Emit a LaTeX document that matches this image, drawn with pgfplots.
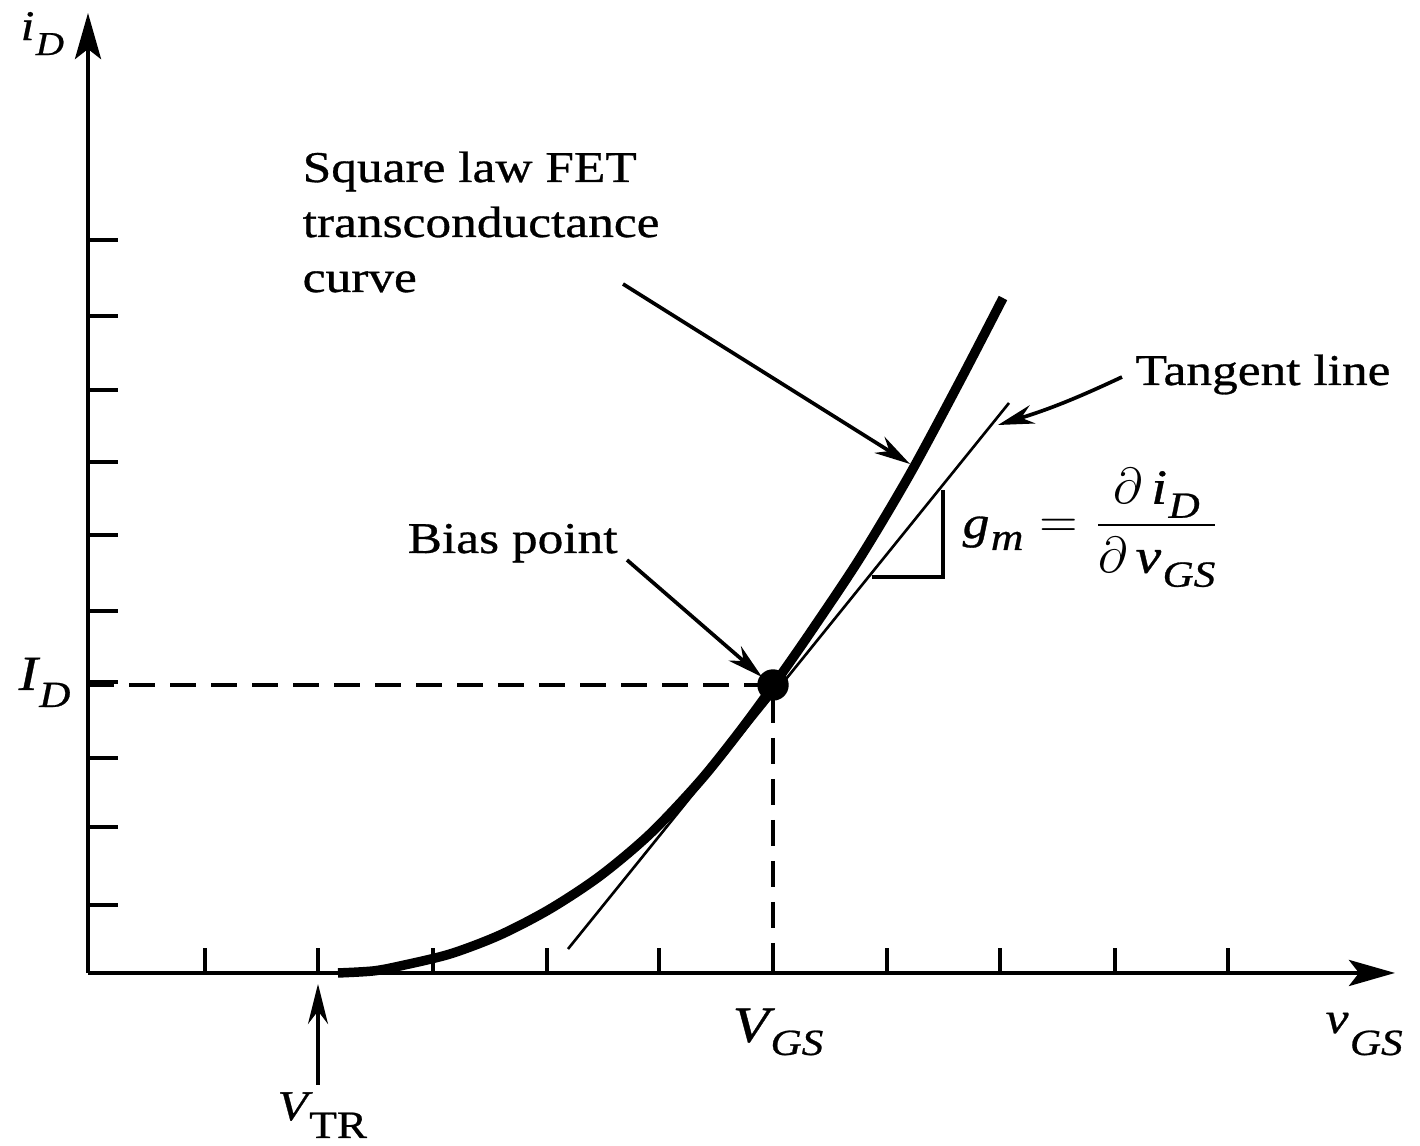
\documentclass[border=0pt]{standalone}
\usepackage{pgfplots}
\pgfplotsset{compat=1.18}
\usepackage{amsmath}
\usepackage{fontspec}
\setmainfont{Liberation Serif}[FakeStretch=1.17,FakeBold=0.7]
\usetikzlibrary{arrows.meta}
% symbol with lowered subscript: #1 main size, #2 sub size, #3 main, #4 sub, #5 drop
\newcommand{\sym}[5]{\mbox{\fontsize{#1}{#1}\selectfont\itshape #3\kern0.4pt\raisebox{-#5}{\fontsize{#2}{#2}\selectfont #4}}}
\begin{document}
\fontsize{12.5}{15}\selectfont
\begin{tikzpicture}
\begin{axis}[
  width=130.7mm, height=96mm, scale only axis,
  xmin=0, xmax=1307, ymin=0, ymax=960,
  axis lines=left,
  axis line style={line width=1.3pt},
  x axis line style={-{Stealth[length=4.6mm,width=2.6mm,inset=1mm]}},
  y axis line style={-{Stealth[length=4.6mm,width=2.6mm,inset=1mm]}},
  xtick={117,230,345,459,571,685,799,912,1027,1140},
  ytick={68,146,215,291,362,438,511,583,657,733},
  xticklabels={}, yticklabels={},
  tick align=inside,
  major tick length=2.7mm,
  x tick style={/pgfplots/major tick length=2.5mm},
  y tick style={/pgfplots/major tick length=3mm},
  tick style={line width=0.9pt, black},
  clip=false,
]
% bounding box of the whole picture
\path (axis cs:-88,-173) rectangle (axis cs:1332,973);

% dashed bias lines
\addplot[line width=1pt, dash pattern=on 2.6mm off 1.5mm] coordinates {(0,288) (685,288) (685,0)};

% square-law curve
\addplot[line width=2.7pt, smooth] coordinates {
(250,0) (285,2) (312,7) (362,19) (412,38) (462,64) (512,97) (562,139)
(612,192) (652,242) (685,287) (722,340) (772,415) (822,499) (872,592) (915,675)};

% tangent line
\addplot[line width=0.75pt] coordinates {(480,24) (921,570)};

% slope triangle
\addplot[line width=1pt] coordinates {(784,396) (855,396) (855,483)};

% bias point
\addplot[only marks, mark=*, mark size=1.5mm, black] coordinates {(685,288)};

% annotation arrows
\draw[line width=1.05pt, -{Stealth[length=3.6mm,width=1.9mm]}] (axis cs:535,689) -- (axis cs:822,509);
\draw[line width=1.05pt, -{Stealth[length=3.6mm,width=1.9mm]}] (axis cs:1034,596) to[bend left=4] (axis cs:910,548);
\draw[line width=1.05pt, -{Stealth[length=3.6mm,width=1.9mm]}] (axis cs:539,413) -- (axis cs:674,296);
\draw[line width=1.1pt, -{Stealth[length=4mm,width=2mm]}] (axis cs:230,-112) -- (axis cs:230,-11);

% text labels
\node[anchor=base west, inner sep=0] at (axis cs:214,791) {Square law FET};
\node[anchor=base west, inner sep=0] at (axis cs:214,736) {transconductance};
\node[anchor=base west, inner sep=0] at (axis cs:214,681) {curve};
\node[anchor=base west, inner sep=0] at (axis cs:1047,588) {Tangent line};
\node[anchor=base west, inner sep=0] at (axis cs:319,420) {Bias point};

% symbols
\node[anchor=base west, inner sep=0] at (axis cs:-68,933) {\sym{12pt}{9.5pt}{i}{\itshape D}{1.5mm}};
\node[anchor=base west, inner sep=0] at (axis cs:-70,283) {\sym{14pt}{10.5pt}{I}{\itshape D}{1.7mm}};
\node[anchor=base west, inner sep=0] at (axis cs:644,-69) {\sym{14.5pt}{10.5pt}{V}{\itshape GS}{1.3mm}};
\node[anchor=base west, inner sep=0] at (axis cs:1237,-60) {\sym{12.5pt}{10.5pt}{v}{\itshape GS}{2.2mm}};
\node[anchor=base west, inner sep=0] at (axis cs:189,-147) {\sym{12pt}{11pt}{V}{\upshape TR}{1.8mm}};

% g_m formula
\node[anchor=base west, inner sep=0] at (axis cs:874,435) {\fontsize{15}{18}\selectfont
  \sym{13pt}{11pt}{g}{\itshape m}{1.2mm}\hspace{1.6mm}$=$\hspace{1.6mm}$\displaystyle\frac{\partial\,\sym{14pt}{10.5pt}{i}{\itshape D}{1.4mm}}{\partial\,\sym{14pt}{10.5pt}{v}{\itshape GS}{1.4mm}}$};
\end{axis}
\end{tikzpicture}
\end{document}
